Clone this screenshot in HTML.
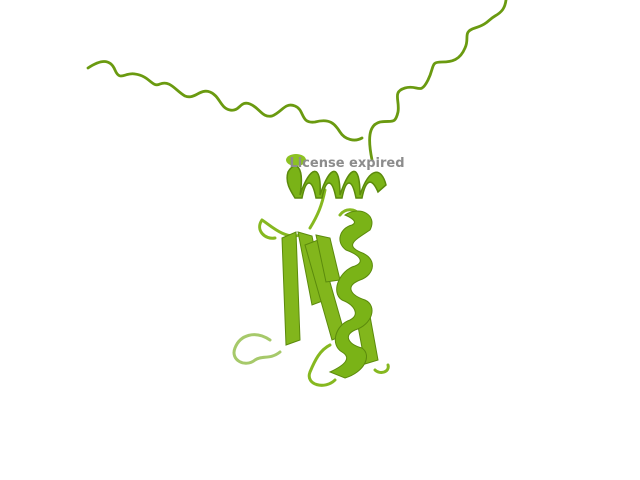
<!DOCTYPE html>
<html><head><meta charset="utf-8"><style>
html,body{margin:0;padding:0;background:#fff;width:640px;height:480px;overflow:hidden}
svg{display:block}
</style></head><body>
<svg width="640" height="480" viewBox="0 0 640 480">
<rect width="640" height="480" fill="#fff"/>
<g fill="none" stroke-linecap="round" stroke-linejoin="round">
<path stroke="#6a9a10" stroke-width="2.8"
 d="M88,68 C100,60 110,58 115,70 C120,82 125,72 135,74 C150,76 152,88 160,84 C170,80 175,90 185,96 C195,100 200,88 210,92 C220,96 220,108 230,110 C240,112 240,100 250,104 C260,108 262,118 272,116 C282,112 285,102 295,106 C305,110 300,124 315,122 C330,118 335,124 340,132 C345,140 355,142 362,138"/>
<path stroke="#6a9a10" stroke-width="2.8"
 d="M372,160 C368,140 368,125 380,122 C392,120 395,125 398,112 C400,100 392,92 405,88 C418,84 420,96 428,80 C435,66 430,62 442,62 C452,62 460,60 465,48 C470,38 462,32 475,28 C488,24 488,20 495,16 C502,12 505,8 506,0"/>
<path stroke="#86b820" stroke-width="3"
 d="M325,190 C322,205 318,215 310,228 M300,235 C285,240 270,225 262,220 C255,230 265,240 275,238 M340,215 C345,208 355,208 360,215 M330,345 C320,350 315,360 310,372 C305,385 325,390 335,380 M375,370 C380,375 390,372 388,365"/>
<path stroke="#a6c96a" stroke-width="3"
 d="M270,340 C255,330 240,335 235,348 C230,360 245,368 255,360 C262,355 270,360 280,352"/>
</g>
<g>
<path fill="#7ab317" stroke="#5b8a0c" stroke-width="1.5"
 d="M288,172 C295,160 305,165 300,195 C310,165 322,162 320,195 C330,165 340,162 340,195 C350,165 360,162 360,195 C370,165 382,168 386,185 L378,192 C372,178 366,178 362,198 L356,198 C352,178 346,178 342,198 L336,198 C332,178 326,178 322,198 L316,198 C312,178 306,178 302,198 L295,198 C290,190 285,182 288,172Z"/>
<ellipse cx="296" cy="160" rx="10" ry="6" fill="#8cc222"/>
</g>
<g fill="#82b61c" stroke="#5b8a0c" stroke-width="1">
<polygon points="282,238 296,232 300,340 286,345"/>
<polygon points="298,232 312,236 325,300 312,305"/>
<polygon points="305,245 318,240 345,335 332,340"/>
<polygon points="316,235 330,238 340,280 326,282"/>
<polygon points="355,310 368,305 378,360 365,364"/>
</g>
<g>
<path fill="#7ab317" stroke="#5b8a0c" stroke-width="1"
 d="M345,215 C360,205 378,215 370,230 C355,240 345,245 360,252 C378,258 375,275 360,280 C345,286 350,295 365,300 C378,306 372,325 355,330 C342,336 350,345 362,348 C372,355 365,372 345,378 L330,372 C345,365 352,358 342,352 C330,345 335,325 350,320 C360,315 355,305 342,300 C330,292 340,270 355,266 C365,262 360,255 346,250 C335,242 340,228 352,225 C358,222 352,218 345,215Z"/>
</g>
<text x="347" y="167" text-anchor="middle" font-family="DejaVu Sans, Liberation Sans, sans-serif" font-weight="bold" font-size="13" fill="#8c8c8c">License expired</text>
</svg>
</body></html>
